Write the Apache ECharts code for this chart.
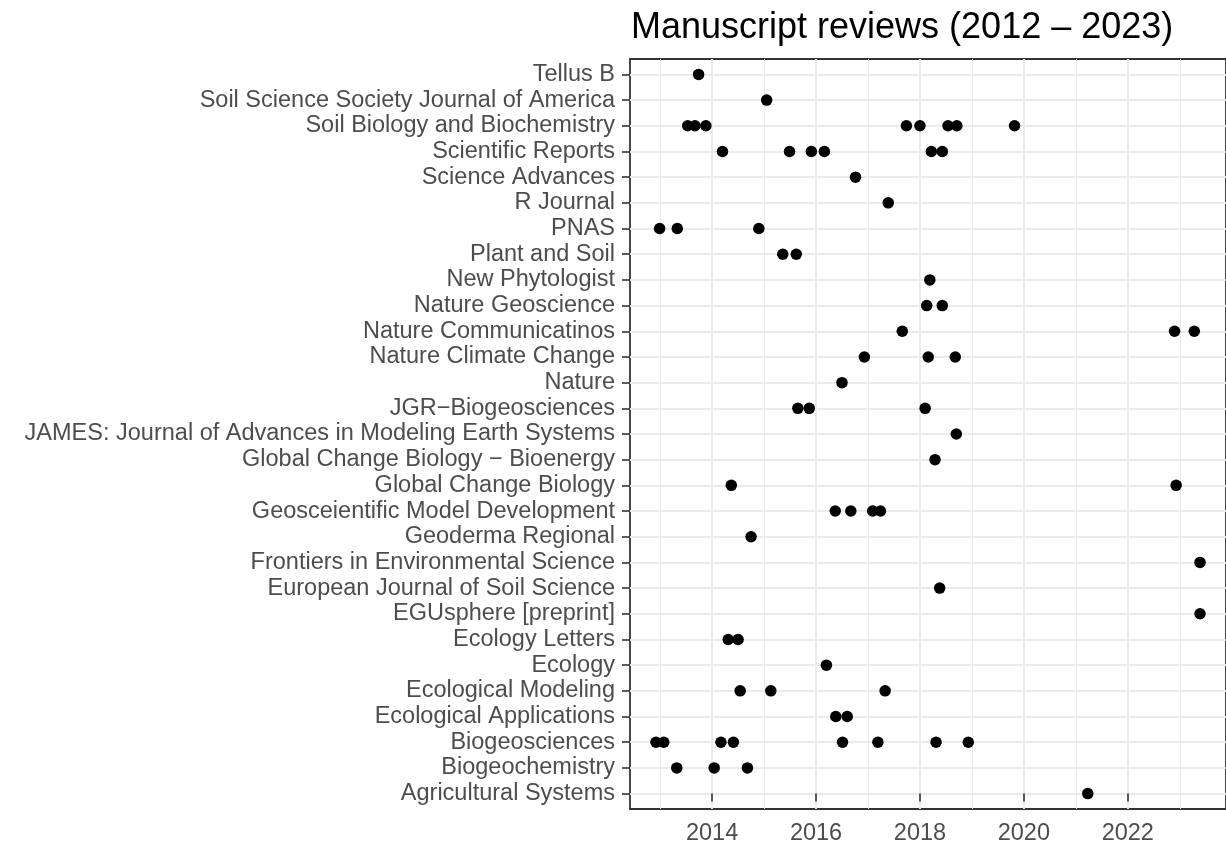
<!DOCTYPE html>
<html>
<head>
<meta charset="utf-8">
<title>Manuscript reviews</title>
<script src="https://cdn.jsdelivr.net/npm/echarts@6/dist/echarts.min.js"></script>
<style>
    html, body { margin: 0; padding: 0; background: #fff; }
    #main { width: 1226px; height: 846px; }
</style>
</head>
<body>
<div id="main"></div>
<script>
// journals, top row first (as in the picture)
var journals = [
    'Tellus B',
    'Soil Science Society Journal of America',
    'Soil Biology and Biochemistry',
    'Scientific Reports',
    'Science Advances',
    'R Journal',
    'PNAS',
    'Plant and Soil',
    'New Phytologist',
    'Nature Geoscience',
    'Nature Communicatinos',
    'Nature Climate Change',
    'Nature',
    'JGR\u2212Biogeosciences',
    'JAMES: Journal of Advances in Modeling Earth Systems',
    'Global Change Biology \u2212 Bioenergy',
    'Global Change Biology',
    'Geosceientific Model Development',
    'Geoderma Regional',
    'Frontiers in Environmental Science',
    'European Journal of Soil Science',
    'EGUsphere [preprint]',
    'Ecology Letters',
    'Ecology',
    'Ecological Modeling',
    'Ecological Applications',
    'Biogeosciences',
    'Biogeochemistry',
    'Agricultural Systems'
];

// review dates (decimal year), same order as journals
var reviewDates = [
    [2013.74],
    [2015.05],
    [2013.53, 2013.67, 2013.88, 2017.74, 2018.0, 2018.54, 2018.71, 2019.82],
    [2014.20, 2015.49, 2015.91, 2016.16, 2018.22, 2018.43],
    [2016.76],
    [2017.39],
    [2012.99, 2013.33, 2014.90],
    [2015.36, 2015.62],
    [2018.19],
    [2018.13, 2018.43],
    [2017.66, 2022.90, 2023.28],
    [2016.93, 2018.16, 2018.68],
    [2016.50],
    [2015.65, 2015.87, 2018.10],
    [2018.70],
    [2018.29],
    [2014.37, 2022.93],
    [2016.37, 2016.67, 2017.09, 2017.24],
    [2014.75],
    [2023.39],
    [2018.38],
    [2023.39],
    [2014.31, 2014.50],
    [2016.20],
    [2014.54, 2015.13, 2017.33],
    [2016.38, 2016.60],
    [2012.92, 2013.07, 2014.17, 2014.41, 2016.51, 2017.19, 2018.31, 2018.93],
    [2013.32, 2014.04, 2014.68],
    [2021.23]
];

var majorYears = [2014, 2016, 2018, 2020, 2022];
var minorYears = [2013, 2015, 2017, 2019, 2021, 2023];

var font = '"Liberation Sans", Arial, Helvetica, sans-serif';
var n = journals.length;

// y index 0 is the bottom row
var points = [];
var rowIdx = [];
journals.forEach(function (name, i) {
    var y = n - 1 - i;
    rowIdx.push(y);
    reviewDates[i].forEach(function (d) {
        points.push([d, y]);
    });
});

var myChart = echarts.init(document.getElementById('main'));
var option = {
    backgroundColor: '#ffffff',
    animation: false,
    title: {
        text: 'Manuscript reviews (2012 \u2013 2023)',
        left: 631,
        top: 10,
        padding: 0,
        textStyle: {
            fontFamily: font,
            fontSize: 36,
            fontWeight: 'normal',
            color: '#000000'
        }
    },
    grid: {
        left: 630,
        right: -4,
        top: 59,
        bottom: 36,
        show: true,
        borderColor: '#333333',
        borderWidth: 1.8,
        backgroundColor: 'transparent'
    },
    xAxis: [{
        type: 'value',
        min: 2012.42,
        max: 2023.89,
        axisLine: { show: false },
        axisTick: {
            show: true,
            customValues: majorYears,
            length: 8,
            lineStyle: { color: '#333333', width: 1.6 }
        },
        axisLabel: {
            customValues: majorYears,
            margin: 13,
            fontFamily: font,
            fontSize: 23.5,
            color: '#4D4D4D',
            formatter: function (v) { return String(v); }
        },
        splitLine: {
            show: true,
            lineStyle: { color: '#EBEBEB', width: 2 }
        }
    }, {
        type: 'value',
        position: 'top',
        min: 2012.42,
        max: 2023.89,
        axisLine: { show: false },
        axisTick: { show: false, customValues: minorYears },
        axisLabel: { show: false },
        splitLine: {
            show: true,
            lineStyle: { color: '#EBEBEB', width: 1 }
        }
    }],
    yAxis: {
        type: 'value',
        min: -0.6,
        max: n - 1 + 0.6,
        axisLine: { show: false },
        axisTick: {
            show: true,
            customValues: rowIdx,
            length: 8,
            lineStyle: { color: '#333333', width: 1.6 }
        },
        axisLabel: {
            customValues: rowIdx,
            margin: 15,
            fontFamily: font,
            fontSize: 23.5,
            color: '#4D4D4D',
            formatter: function (v) {
                return journals[n - 1 - Math.round(v)];
            }
        },
        splitLine: {
            show: true,
            lineStyle: { color: '#EBEBEB', width: 2 }
        }
    },
    series: [{
        type: 'scatter',
        xAxisIndex: 0,
        data: points,
        symbol: 'circle',
        symbolSize: 11.5,
        itemStyle: { color: '#000000', opacity: 1 },
        z: 5
    }]
};
myChart.setOption(option);
</script>
</body>
</html>
